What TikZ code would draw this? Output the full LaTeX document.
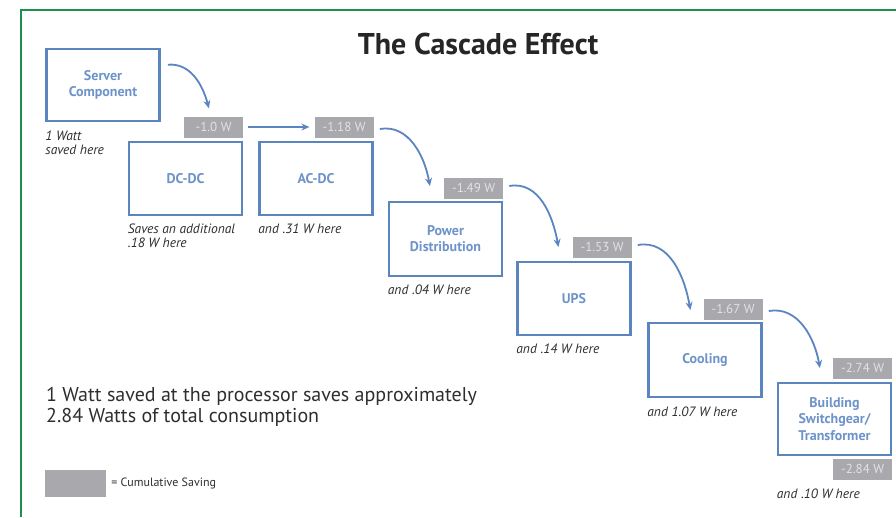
\documentclass[tikz,border=0pt]{standalone}
\usepackage{fontspec}
\setmainfont{PT Sans}
\usetikzlibrary{arrows.meta,calc}
\definecolor{frameg}{HTML}{1E8F4E}
\definecolor{boxblue}{HTML}{5A85BF}
\definecolor{txtblue}{HTML}{6E93C9}
\definecolor{labgray}{HTML}{A9A9AD}
\definecolor{labtxt}{HTML}{E2E2E4}
\definecolor{darktxt}{HTML}{2E2E2E}
\tikzset{
  stagebox/.style={draw=boxblue, line width=2.6pt, fill=white, minimum width=113pt, align=center,
    text=txtblue, font=\fontsize{14}{16}\selectfont\bfseries, inner sep=0pt},
  savelab/.style={fill=labgray, minimum width=59pt, minimum height=21pt, inner sep=0pt,
    text=labtxt, font=\fontsize{13}{13}\selectfont},
  note/.style={text=darktxt, font=\fontsize{13.5}{14}\selectfont\itshape, align=left, inner sep=0pt, anchor=north west},
  flow/.style={draw=boxblue, line width=1.8pt, -{Stealth[length=8pt,width=7pt]}}
}
\begin{document}
\begin{tikzpicture}[x=1pt,y=-1pt]
\useasboundingbox (0,0) rectangle (896,517);
% frame
\draw[frameg, line width=2pt] (21,517) -- (21,10) -- (896,10);
% title
\node[font=\fontsize{30}{32}\selectfont\bfseries, text=black!85] (title) at (478,44) {The Cascade Effect};
% boxes
\node[stagebox, minimum height=72pt] (server) at (103,85) {Server\\Component};
\node[stagebox, minimum height=73pt] (dcdc) at (185.5,178.5) {DC-DC};
\node[stagebox, minimum height=73pt] (acdc) at (316,178.5) {AC-DC};
\node[stagebox, minimum height=74pt] (pd) at (445.5,239) {Power\\Distribution};
\node[stagebox, minimum height=73pt] (ups) at (574,298.5) {UPS};
\node[stagebox, minimum height=74pt] (cool) at (705,360) {Cooling};
\node[stagebox, minimum height=72pt, font=\fontsize{14}{16.5}\selectfont\bfseries] (bld) at (834.5,419) {Building\\Switchgear/\\Transformer};
% saving labels
\node[savelab, anchor=south east] (g1) at ([yshift=3pt]dcdc.north east) {-1.0 W};
\node[savelab, anchor=south east] (g2) at ([yshift=3pt]acdc.north east) {-1.18 W};
\node[savelab, anchor=south east] (g3) at ([yshift=2pt]pd.north east) {-1.49 W};
\node[savelab, anchor=south east] (g4) at ([yshift=3pt]ups.north east) {-1.53 W};
\node[savelab, anchor=south east] (g5) at ([yshift=2pt]cool.north east) {-1.67 W};
\node[savelab, anchor=south east] (g6) at ([yshift=3pt]bld.north east) {-2.74 W};
\node[savelab, anchor=north east] (g7) at ([yshift=-2pt]bld.south east) {-2.84 W};
% notes
\node[note] (n0) at ([yshift=-8pt]server.south west) {1 Watt\\saved here};
\node[note] (n1) at ([yshift=-7pt]dcdc.south west) {Saves an additional\\.18 W here};
\node[note] (n2) at ([yshift=-7pt]acdc.south west) {and .31 W here};
\node[note] (n3) at ([yshift=-7pt]pd.south west) {and .04 W here};
\node[note] (n4) at ([yshift=-7pt]ups.south west) {and .14 W here};
\node[note] (n5) at ([yshift=-8pt]cool.south west) {and 1.07 W here};
\node[note] (n6) at ([yshift=-32pt]bld.south west) {and .10 W here};
% flow arrows
\draw[flow] ([xshift=7pt,yshift=-17pt]server.north east) to[out=5,in=105] ([xshift=25pt,yshift=8pt]g1.north west);
\draw[flow] ([xshift=5pt]g1.east) -- ([xshift=-5pt]g2.west);
\draw[flow] ([xshift=6pt,yshift=-2pt]g2.east) to[out=10,in=100] ([xshift=-14pt,yshift=2pt]g3.west);
\draw[flow] ([xshift=6pt,yshift=2pt]g3.east) to[out=10,in=100] ([xshift=-14pt,yshift=0pt]g4.west);
\draw[flow] ([xshift=6pt,yshift=2pt]g4.east) to[out=10,in=100] ([xshift=-13pt,yshift=-1pt]g5.west);
\draw[flow] ([xshift=6pt,yshift=-2pt]g5.east) to[out=10,in=100] ([xshift=-13pt,yshift=0pt]g6.west);
% summary text
\node[anchor=north west, align=left, inner sep=0pt, text=darktxt, font=\fontsize{20}{21}\selectfont] (summary) at (46,387)
  {1 Watt saved at the processor saves approximately\\2.84 Watts of total consumption};
% legend
\node[fill=labgray, minimum width=61pt, minimum height=27pt, inner sep=0pt] (legbox) at (75.5,483.5) {};
\node[anchor=west, inner sep=0pt, text=darktxt, font=\fontsize{12}{12}\selectfont] (legtxt) at ([xshift=5pt]legbox.east) {= Cumulative Saving};
\end{tikzpicture}
\end{document}
